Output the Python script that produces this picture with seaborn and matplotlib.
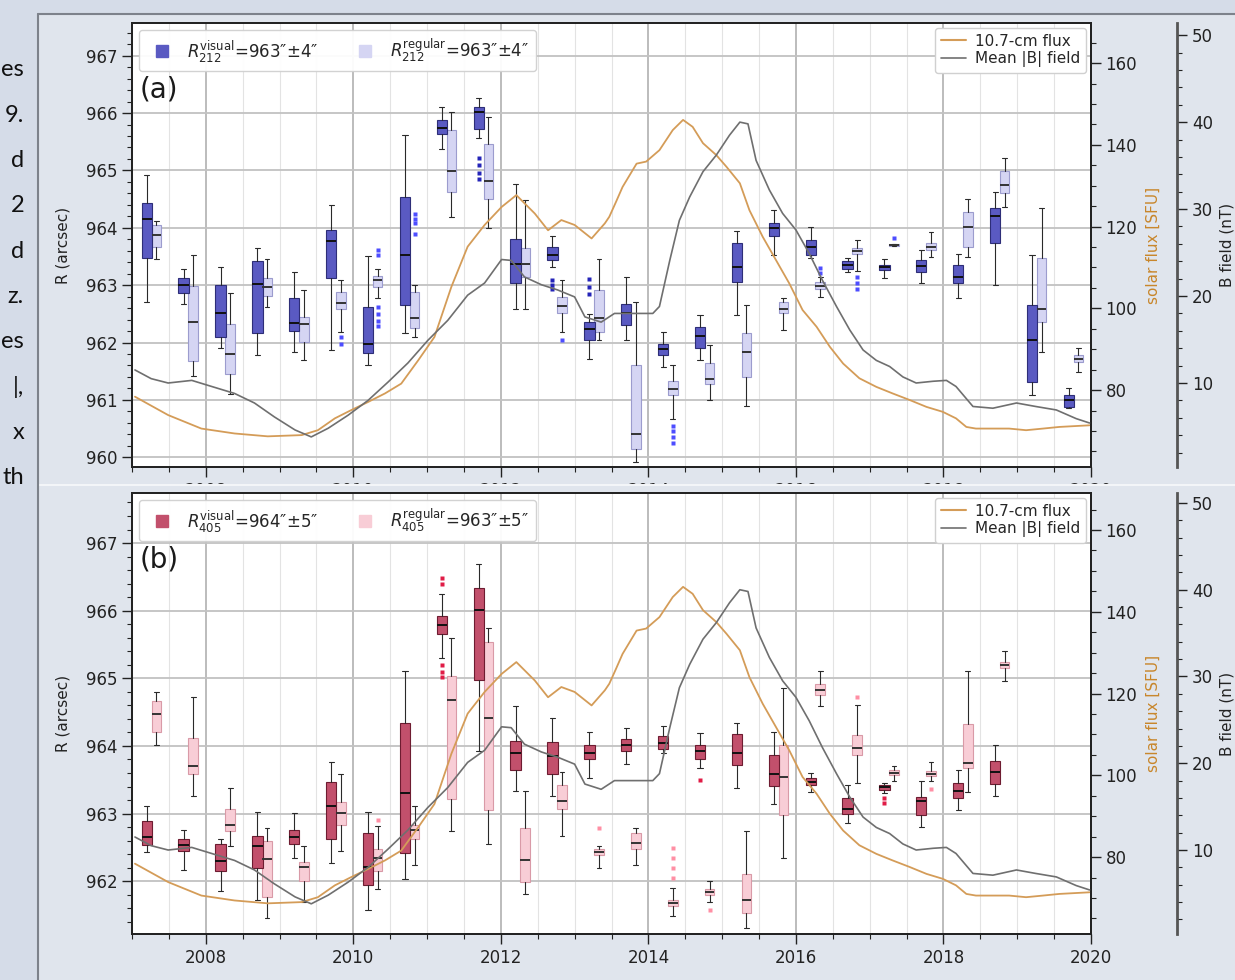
import numpy as np
import matplotlib
matplotlib.use("Agg")
import matplotlib.pyplot as plt
import seaborn as sns
from matplotlib.lines import Line2D
from matplotlib.patches import Rectangle
from matplotlib.ticker import MultipleLocator, FuncFormatter

sns.set_theme(style="ticks")
plt.rcParams["font.family"] = ["DejaVu Sans"]
plt.rcParams["mathtext.fontset"] = "dejavusans"

W, H = 1235, 980

# ---------------------------------------------------------------- data
# semester epochs (decimal year) of the radius measurements
semesters = [2007.2, 2007.7, 2008.2, 2008.7, 2009.2, 2009.7, 2010.2, 2010.7,
             2011.2, 2011.7, 2012.2, 2012.7, 2013.2, 2013.7, 2014.2, 2014.7,
             2015.2, 2015.7, 2016.2, 2016.7, 2017.2, 2017.7, 2018.2, 2018.7,
             2019.2, 2019.7]

# box statistics (whisker low, Q1, median, Q3, whisker high) in arcsec
r212_visual = [
    (962.71, 963.48, 964.15, 964.44, 964.92), (962.67, 962.87, 963.00, 963.13, 963.29),
    (961.90, 962.09, 962.51, 963.00, 963.32), (961.79, 962.16, 963.02, 963.42, 963.64),
    (961.83, 962.20, 962.34, 962.78, 963.23), (961.87, 963.12, 963.77, 963.97, 964.40),
    (961.60, 961.82, 961.98, 962.62, 963.51), (962.16, 962.65, 963.52, 964.53, 965.62),
    (965.37, 965.63, 965.74, 965.88, 966.11), (965.56, 965.73, 966.02, 966.10, 966.26),
    (962.59, 963.03, 963.37, 963.81, 964.76), (963.32, 963.44, 963.52, 963.67, 963.85),
    (961.72, 962.05, 962.24, 962.36, 962.50), (962.04, 962.30, 962.51, 962.68, 963.15),
    (961.58, 961.78, 961.88, 961.98, 962.19), (961.69, 961.90, 962.11, 962.27, 962.48),
    (962.48, 963.06, 963.32, 963.73, 963.95), (963.52, 963.85, 963.99, 964.09, 964.31),
    (963.48, 963.52, 963.67, 963.78, 964.02), (963.23, 963.29, 963.35, 963.42, 963.48),
    (963.12, 963.26, 963.31, 963.35, 963.45), (963.03, 963.23, 963.33, 963.44, 963.61),
    (962.77, 963.03, 963.15, 963.35, 963.55), (963.00, 963.73, 964.20, 964.35, 964.63),
    (961.08, 961.31, 962.04, 962.65, 963.52), (960.85, 960.88, 961.00, 961.08, 961.20),
]
r212_visual_fliers = {9: [965.21, 965.10, 964.95, 964.85],
                      11: [963.09, 963.00, 962.93],
                      12: [963.10, 962.97, 962.85]}

r212_regular = [
    (963.45, 963.67, 963.88, 964.05, 964.12), (961.41, 961.67, 962.35, 962.99, 963.52),
    (961.11, 961.45, 961.80, 962.33, 962.87), (962.62, 962.81, 962.97, 963.12, 963.46),
    (961.69, 962.01, 962.33, 962.45, 962.91), (962.19, 962.58, 962.69, 962.88, 963.09),
    (962.77, 962.97, 963.09, 963.16, 963.29), (962.10, 962.26, 962.42, 962.88, 963.00),
    (964.19, 964.63, 964.99, 965.70, 966.02), (964.00, 964.51, 964.81, 965.46, 965.94),
    (962.58, 963.15, 963.37, 963.64, 964.48), (962.19, 962.51, 962.63, 962.80, 963.09),
    (962.05, 962.19, 962.42, 962.91, 963.45), (959.92, 960.15, 960.41, 961.60, 962.71),
    (960.67, 961.08, 961.19, 961.33, 961.60), (961.00, 961.28, 961.36, 961.65, 961.95),
    (960.89, 961.40, 961.84, 962.17, 962.65), (962.21, 962.51, 962.58, 962.71, 962.77),
    (962.80, 962.94, 962.99, 963.06, 963.15), (963.24, 963.54, 963.59, 963.64, 963.78),
    (963.68, 963.69, 963.70, 963.71, 963.72), (963.49, 963.61, 963.67, 963.74, 963.93),
    (963.49, 963.67, 964.02, 964.28, 964.51), (964.37, 964.60, 964.74, 964.99, 965.21),
    (961.84, 962.36, 962.58, 963.48, 964.35), (961.49, 961.66, 961.72, 961.78, 961.90),
]
r212_regular_fliers = {5: [962.10, 961.98],
                       6: [963.61, 963.52, 962.62, 962.50, 962.38, 962.28],
                       7: [964.24, 964.16, 964.08, 963.90],
                       11: [962.04],
                       14: [960.55, 960.45, 960.35, 960.25],
                       18: [963.30, 963.22],
                       19: [963.15, 963.03, 962.94],
                       20: [963.82]}

r405_visual = [
    (962.43, 962.53, 962.65, 962.89, 963.11), (962.16, 962.44, 962.53, 962.62, 962.76),
    (961.85, 962.15, 962.30, 962.55, 962.62), (961.73, 962.20, 962.52, 962.67, 963.03),
    (962.34, 962.55, 962.65, 962.76, 963.01), (962.27, 962.62, 963.11, 963.47, 963.77),
    (961.57, 961.95, 962.21, 962.71, 963.03), (962.04, 962.42, 963.31, 964.34, 965.11),
    (965.30, 965.65, 965.79, 965.92, 966.25), (963.92, 964.98, 966.01, 966.33, 966.69),
    (963.34, 963.64, 963.90, 964.08, 964.59), (963.26, 963.59, 963.85, 964.06, 964.41),
    (963.53, 963.80, 963.90, 964.02, 964.21), (963.73, 963.92, 964.01, 964.11, 964.26),
    (963.90, 963.95, 964.04, 964.14, 964.29), (963.67, 963.81, 963.92, 964.02, 964.19),
    (963.38, 963.72, 963.90, 964.17, 964.34), (963.14, 963.41, 963.58, 963.86, 964.21),
    (963.32, 963.42, 963.47, 963.52, 963.60), (962.86, 962.99, 963.07, 963.23, 963.43),
    (963.31, 963.35, 963.39, 963.42, 963.45), (962.80, 962.98, 963.18, 963.24, 963.48),
    (963.06, 963.23, 963.33, 963.45, 963.65), (963.26, 963.44, 963.62, 963.78, 964.02),
]
r405_visual_fliers = {8: [966.48, 966.40, 965.20, 965.10, 965.02],
                      15: [963.50],
                      20: [963.23, 963.16]}

r405_regular = [
    (964.01, 964.21, 964.47, 964.67, 964.80), (963.26, 963.58, 963.70, 964.12, 964.72),
    (962.52, 962.74, 962.83, 963.07, 963.38), (961.46, 961.76, 962.33, 962.60, 962.79),
    (961.70, 962.01, 962.21, 962.29, 962.52), (962.44, 962.83, 963.01, 963.17, 963.59),
    (961.88, 962.15, 962.34, 962.47, 962.81), (962.24, 962.62, 962.76, 962.83, 963.11),
    (962.75, 963.21, 964.68, 965.03, 965.59), (962.55, 963.06, 964.42, 965.54, 965.74),
    (961.81, 961.99, 962.32, 962.79, 963.34), (962.67, 963.07, 963.18, 963.42, 963.62),
    (962.19, 962.39, 962.43, 962.48, 962.52), (962.24, 962.47, 962.57, 962.71, 962.79),
    (961.48, 961.63, 961.68, 961.73, 961.90), (961.70, 961.79, 961.84, 961.89, 962.00),
    (961.31, 961.53, 961.73, 962.11, 962.74), (962.35, 962.98, 963.54, 964.01, 964.86),
    (964.59, 964.76, 964.83, 964.91, 965.11), (963.45, 963.87, 963.97, 964.16, 964.60),
    (963.48, 963.57, 963.60, 963.64, 963.70), (963.48, 963.55, 963.59, 963.63, 963.77),
    (963.32, 963.67, 963.75, 964.33, 965.11), (964.96, 965.15, 965.19, 965.24, 965.41),
]
r405_regular_fliers = {6: [962.90],
                       12: [962.79],
                       14: [962.49, 962.34, 962.20, 962.05],
                       15: [961.58],
                       19: [964.72],
                       21: [963.37]}

# 10.7-cm solar radio flux (SFU)
flux_t = [2007.04, 2007.49, 2007.94, 2008.39, 2008.84, 2009.30, 2009.52, 2009.75,
          2009.97, 2010.20, 2010.43, 2010.65, 2010.88, 2011.10, 2011.33, 2011.55,
          2011.78, 2012.01, 2012.21, 2012.46, 2012.64, 2012.82, 2013.00, 2013.23,
          2013.41, 2013.47, 2013.56, 2013.65, 2013.84, 2013.97, 2014.15, 2014.33,
          2014.47, 2014.60, 2014.74, 2014.92, 2015.06, 2015.24, 2015.37, 2015.55,
          2015.73, 2015.91, 2016.09, 2016.28, 2016.46, 2016.64, 2016.86, 2017.09,
          2017.31, 2017.54, 2017.77, 2017.99, 2018.17, 2018.31, 2018.44, 2018.89,
          2019.12, 2019.35, 2019.57, 2019.98]
flux_v = [78.4, 73.9, 70.6, 69.4, 68.7, 69.0, 70.2, 73.1,
          75.1, 77.1, 79.2, 81.6, 87.3, 93.0, 105.3, 115.1,
          120.4, 124.8, 127.7, 123.2, 119.1, 121.6, 120.4, 117.1,
          120.8, 122.4, 126.0, 129.7, 135.4, 135.9, 138.7, 143.6,
          146.1, 144.4, 140.4, 137.5, 134.6, 130.6, 124.0, 117.5,
          111.8, 106.1, 99.6, 95.5, 90.6, 86.5, 82.9, 80.8,
          79.2, 77.6, 75.9, 74.7, 73.1, 71.0, 70.6, 70.6,
          70.2, 70.6, 71.0, 71.4]

# mean unsigned photospheric magnetic field (nT)
bfield_t = [2007.04, 2007.26, 2007.49, 2007.81, 2008.08, 2008.39, 2008.66, 2008.93,
            2009.21, 2009.43, 2009.66, 2009.93, 2010.20, 2010.47, 2010.74, 2011.01,
            2011.28, 2011.55, 2011.78, 2012.01, 2012.14, 2012.32, 2012.55, 2012.77,
            2013.00, 2013.14, 2013.36, 2013.54, 2013.75, 2014.06, 2014.15, 2014.29,
            2014.42, 2014.56, 2014.74, 2014.92, 2015.10, 2015.24, 2015.35, 2015.46,
            2015.64, 2015.82, 2016.00, 2016.18, 2016.36, 2016.55, 2016.73, 2016.91,
            2017.09, 2017.27, 2017.45, 2017.63, 2017.86, 2018.04, 2018.17, 2018.40,
            2018.67, 2018.99, 2019.25, 2019.53, 2019.80, 2019.98]
bfield_v = [11.5, 10.5, 10.0, 10.3, 9.6, 8.8, 7.7, 6.1,
            4.6, 3.8, 4.8, 6.3, 8.0, 10.1, 12.3, 14.9,
            17.2, 20.1, 21.5, 24.2, 24.1, 22.2, 21.3, 20.7,
            19.9, 17.6, 17.0, 18.0, 18.0, 18.0, 18.8, 24.1,
            28.7, 31.4, 34.3, 36.2, 38.5, 40.0, 39.8, 35.6,
            32.2, 29.5, 27.6, 24.9, 21.8, 18.8, 16.1, 13.8,
            12.6, 11.9, 10.7, 10.0, 10.2, 10.3, 9.6, 7.3,
            7.1, 7.7, 7.3, 6.9, 5.9, 5.4]

labels_a = [r"$R_{212}^{\rm visual}$=963″±4″", r"$R_{212}^{\rm regular}$=963″±4″"]
labels_b = [r"$R_{405}^{\rm visual}$=964″±5″", r"$R_{405}^{\rm regular}$=963″±5″"]

side_words = ["es", "9.", "d", "2", "d", "z.", "es", "|,", "x", "th"]

# ---------------------------------------------------------------- style
FLUX_C = "#d49c58"
FLUX_LABEL_C = "#c8862b"
B_C = "#6f6f6f"
SLIDE_BG = "#d5dce8"
FRAME_BG = "#e0e5ed"

PAL_A = dict(dark="#5a5ac2", dark_edge="#2e2e78", light="#d5d5f3", light_edge="#9c9cce",
             dark_fl="#2424b8", light_fl="#4d4dff")
PAL_B = dict(dark="#c2506c", dark_edge="#6e1c31", light="#f8cdd6", light_edge="#d99aa7",
             dark_fl="#e01c46", light_fl="#ff8fa4")

OFFSET = 0.13


def box_stats(rows, fliers):
    return [dict(whislo=lo, q1=q1, med=med, q3=q3, whishi=hi, fliers=fliers.get(i, []))
            for i, (lo, q1, med, q3, hi) in enumerate(rows)]


def draw_boxes(ax, rows, fliers, pos, width, face, edge, flc, medc):
    ax.bxp(box_stats(rows, fliers), positions=pos, widths=width, patch_artist=True,
           manage_ticks=False,
           boxprops=dict(facecolor=face, edgecolor=edge, linewidth=0.8),
           medianprops=dict(color=medc, linewidth=1.4),
           whiskerprops=dict(color="#2a2a2a", linewidth=0.8),
           capprops=dict(color="#2a2a2a", linewidth=0.8),
           flierprops=dict(marker="s", markersize=2.8, markerfacecolor=flc,
                           markeredgecolor="none", linestyle="none"))


def panel(rect, vis, vis_fl, reg, reg_fl, pal, r_lim, f_lim, b_lim, tag, leg_labels):
    ax = fig.add_axes(rect)
    ax.set_facecolor("white")
    n = len(vis)
    pos = np.array(semesters[:n])
    draw_boxes(ax, reg, reg_fl, pos + OFFSET, 0.13, pal["light"], pal["light_edge"],
               pal["light_fl"], "#333333")
    draw_boxes(ax, vis, vis_fl, pos, 0.14, pal["dark"], pal["dark_edge"],
               pal["dark_fl"], "#111111")

    ax.set_xlim(2007.0, 2020.0)
    ax.set_ylim(*r_lim)
    ax.xaxis.set_major_locator(MultipleLocator(2))
    ax.xaxis.set_minor_locator(MultipleLocator(0.5))
    ax.xaxis.set_major_formatter(FuncFormatter(lambda v, p: f"{v:.0f}"))
    ax.yaxis.set_major_locator(MultipleLocator(1))
    ax.yaxis.set_minor_locator(MultipleLocator(0.2))
    ax.yaxis.set_major_formatter(FuncFormatter(lambda v, p: f"{v:.0f}"))
    ax.set_axisbelow(True)
    ax.grid(which="major", axis="x", color="#a9a9a9", linewidth=1.1)
    ax.grid(which="minor", axis="x", color="#e3e3e3", linewidth=0.8)
    ax.grid(which="major", axis="y", color="#c2c2c2", linewidth=1.3)
    ax.tick_params(which="major", length=7, width=1, labelsize=12, colors="#222222")
    ax.tick_params(which="minor", length=3.5, width=0.8, colors="#222222")
    for s in ax.spines.values():
        s.set_color("#222222")
        s.set_linewidth(1.3)
    ax.set_ylabel("R (arcsec)", fontsize=11, labelpad=11, color="#222222")

    handles = [Line2D([], [], marker="s", ls="none", ms=8, mfc=pal["dark"], mec=pal["dark"]),
               Line2D([], [], marker="s", ls="none", ms=8, mfc=pal["light"], mec=pal["light"])]
    ax.legend(handles, leg_labels, loc="upper left", ncol=2, fontsize=12, frameon=True,
              framealpha=0.95, edgecolor="#d0d0d0", handletextpad=0.5,
              columnspacing=1.8, borderaxespad=0.4)
    ax.text(0.008, 0.85, tag, transform=ax.transAxes, fontsize=20, va="center",
            ha="left", color="#1a1a1a")

    # solar radio flux on the first right axis
    axf = ax.twinx()
    sns.lineplot(x=flux_t, y=flux_v, ax=axf, color=FLUX_C, linewidth=1.3, errorbar=None)
    axf.set_ylim(*f_lim)
    axf.yaxis.set_major_locator(MultipleLocator(20))
    axf.yaxis.set_minor_locator(MultipleLocator(5))
    axf.tick_params(which="major", length=7, width=1, labelsize=12, colors="#222222")
    axf.tick_params(which="minor", length=3.5, width=0.8, colors="#222222")
    axf.set_ylabel("solar flux [SFU]", color=FLUX_LABEL_C, fontsize=11, labelpad=6)
    for s in axf.spines.values():
        s.set_color("#222222")
        s.set_linewidth(1.3)

    # magnetic field on an offset right axis
    axb = ax.twinx()
    sns.lineplot(x=bfield_t, y=bfield_v, ax=axb, color=B_C, linewidth=1.2, errorbar=None)
    axb.set_ylim(*b_lim)
    axb.spines["right"].set_position(("axes", 1.09))
    for side in ("left", "top", "bottom"):
        axb.spines[side].set_visible(False)
    axb.spines["right"].set_color("#555555")
    axb.spines["right"].set_linewidth(2.0)
    axb.yaxis.set_major_locator(MultipleLocator(10))
    axb.yaxis.set_minor_locator(MultipleLocator(2))
    axb.tick_params(which="major", length=7, width=1, labelsize=12, colors="#222222")
    axb.tick_params(which="minor", length=3.5, width=0.8, colors="#222222")
    axb.set_ylabel("B field (nT)", fontsize=11, labelpad=5, color="#222222")
    axb.set_xlim(2007.0, 2020.0)

    lh = [Line2D([], [], color=FLUX_C, lw=1.5), Line2D([], [], color=B_C, lw=1.2)]
    axb.legend(lh, ["10.7-cm flux", "Mean |B| field"], loc="upper right", fontsize=11,
               handlelength=1.6, handletextpad=0.6, borderaxespad=0.3, framealpha=1.0,
               edgecolor="#d0d0d0", labelspacing=0.15)
    return ax, axf, axb


fig = plt.figure(figsize=(W / 100, H / 100), dpi=100)
fig.patch.set_facecolor(SLIDE_BG)

# frame of the embedded figure
fig.add_artist(Rectangle((38 / W, 0), 1 - 38 / W, 1 - 14 / H, transform=fig.transFigure,
                         facecolor=FRAME_BG, edgecolor="none", zorder=-1))

left = 132 / W
width = (1091 - 132) / W
top_rect = [left, (H - 467) / H, width, (467 - 23) / H]
bot_rect = [left, (H - 934) / H, width, (934 - 493) / H]

panel(top_rect, r212_visual, r212_visual_fliers, r212_regular, r212_regular_fliers, PAL_A,
      (959.83, 967.57), (61.2, 169.8), (0.34, 51.4), "(a)", labels_a)

# lower figure sits over the tick labels of the upper one
fig.add_artist(Rectangle((38 / W, 0), 1 - 38 / W, (H - 485) / H, transform=fig.transFigure,
                         facecolor=FRAME_BG, edgecolor="none", zorder=0.5))
fig.add_artist(Line2D([38 / W, 1], [(H - 485) / H] * 2, transform=fig.transFigure,
                      color="#f3f5f8", lw=1.5, zorder=0.6))

axes_b = panel(bot_rect, r405_visual, r405_visual_fliers, r405_regular, r405_regular_fliers,
               PAL_B, (961.22, 967.74), (61.2, 169.05), (0.32, 51.15), "(b)", labels_b)
for a in axes_b:
    a.set_zorder(1)

fig.add_artist(Line2D([38 / W, 38 / W], [0, 1 - 14 / H], transform=fig.transFigure,
                      color="#7d828b", lw=1.5, zorder=3))
fig.add_artist(Line2D([38 / W, 1], [1 - 14 / H] * 2, transform=fig.transFigure,
                      color="#7d828b", lw=1.5, zorder=3))

# tail ends of the slide text beside the figure
for i, word in enumerate(side_words):
    fig.text(24 / W, 1 - (70 + 45.3 * i) / H, word, ha="right", va="center", fontsize=17,
             color="#111111", family=["Lato", "DejaVu Sans"])

fig.savefig("out.png", dpi=100, facecolor=fig.get_facecolor())
